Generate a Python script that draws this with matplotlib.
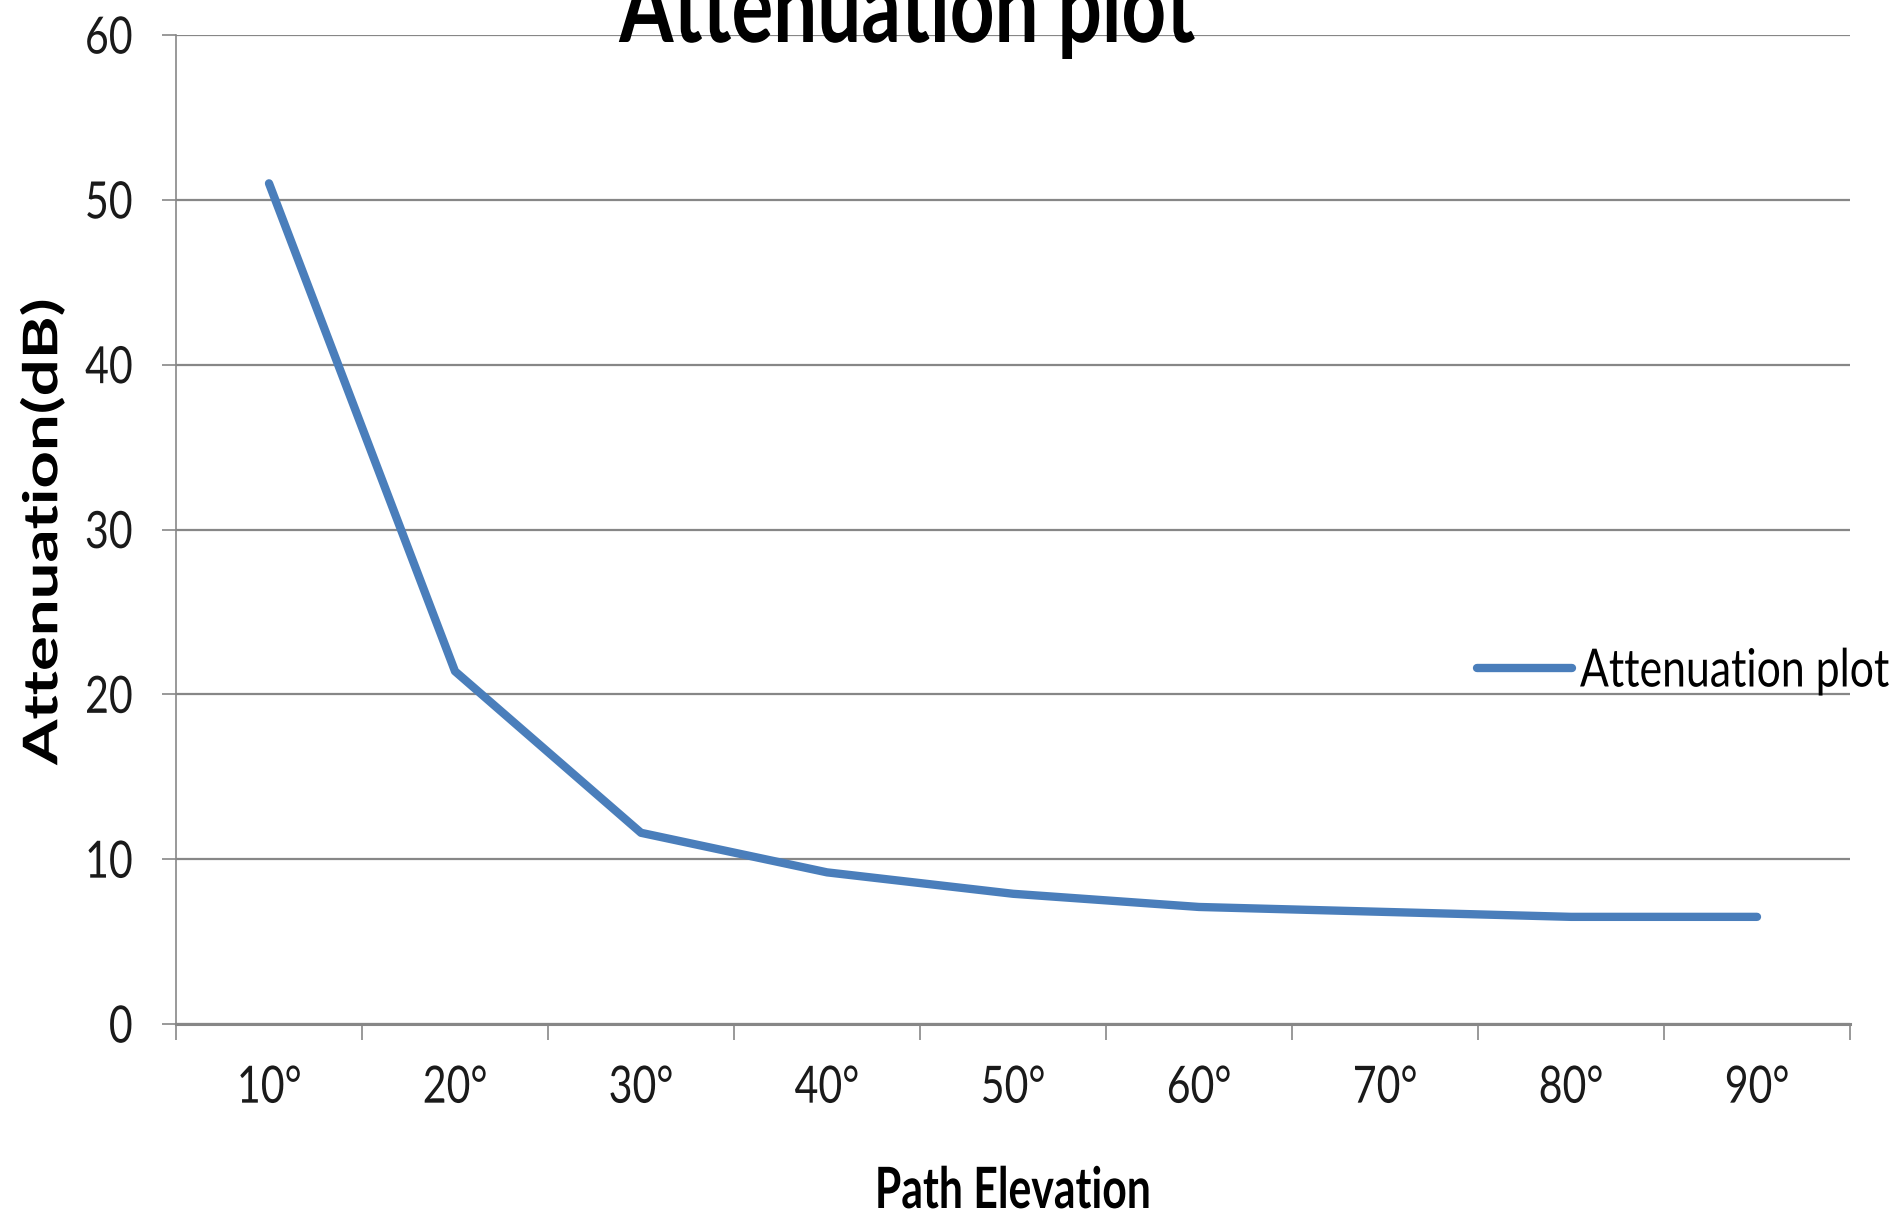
import numpy as np
import matplotlib
matplotlib.use("Agg")
import matplotlib.pyplot as plt
from matplotlib.patheffects import AbstractPathEffect
from matplotlib.transforms import Affine2D
from matplotlib.path import Path

# Data: attenuation versus path elevation angle
elevations = ["10°", "20°", "30°", "40°", "50°", "60°", "70°", "80°", "90°"]
attenuation_db = [51.0, 21.4, 11.6, 9.2, 7.9, 7.1, 6.8, 6.5, 6.5]
y_ticks = [0, 10, 20, 30, 40, 50, 60]

LINE_COLOR = "#4A7EBB"
GRID_COLOR = "#878787"
FONT = "Lato"

W, H = 1902, 1214


class Squeeze(AbstractPathEffect):
    """Narrow the glyphs horizontally (in display space) about an anchor."""

    def __init__(self, factor, anchor="center"):
        super().__init__()
        self._factor = factor
        self._anchor = anchor

    def draw_path(self, renderer, gc, tpath, affine, rgbFace=None):
        verts = tpath.vertices
        if tpath.codes is not None:
            verts = verts[tpath.codes != Path.CLOSEPOLY]
        if len(verts) == 0:
            renderer.draw_path(gc, tpath, affine, rgbFace)
            return
        xs = affine.transform(verts)[:, 0]
        if self._anchor == "left":
            x0 = xs.min()
        elif self._anchor == "right":
            x0 = xs.max()
        else:
            x0 = 0.5 * (xs.min() + xs.max())
        squeeze = Affine2D().translate(-x0, 0).scale(self._factor, 1).translate(x0, 0)
        renderer.draw_path(gc, tpath, affine + squeeze, rgbFace)


fig = plt.figure(figsize=(W / 100, H / 100), dpi=100)
fig.patch.set_facecolor("white")

left, right, top, bottom = 176, 1850, 35, 1024
ax = fig.add_axes([left / W, 1 - bottom / H, (right - left) / W, (bottom - top) / H])

x = np.arange(len(elevations)) + 0.5
ax.plot(x, attenuation_db, color=LINE_COLOR, lw=6, solid_capstyle="round",
        solid_joinstyle="round", label="Attenuation plot", zorder=3)

ax.set_xlim(0, len(elevations))
ax.set_ylim(0, 60)

# y axis: gridlines at each tick, outward ticks
ax.set_yticks(y_ticks)
ax.set_yticklabels([str(v) for v in y_ticks])
ax.yaxis.grid(True, color=GRID_COLOR, lw=1.6)
ax.set_axisbelow(True)
ax.tick_params(axis="y", direction="out", length=10, width=1.2, color=GRID_COLOR,
               pad=21, labelsize=37, labelcolor="#1a1a1a")

# x axis: ticks at category boundaries, labels at category centres
ax.set_xticks(np.arange(len(elevations) + 1))
ax.set_xticklabels([""] * (len(elevations) + 1))
ax.set_xticks(x, minor=True)
ax.set_xticklabels(elevations, minor=True)
ax.tick_params(axis="x", which="major", direction="out", length=11.5, width=1.2,
               color=GRID_COLOR)
ax.tick_params(axis="x", which="minor", length=0, pad=30, labelsize=37,
               labelcolor="#1a1a1a")

for s in ("top", "right"):
    ax.spines[s].set_visible(False)
ax.spines["left"].set_color(GRID_COLOR)
ax.spines["left"].set_linewidth(1.2)
ax.spines["bottom"].set_color(GRID_COLOR)
ax.spines["bottom"].set_linewidth(2.2)

for lab in ax.get_yticklabels():
    lab.set_fontfamily(FONT)
    lab.set_path_effects([Squeeze(0.8, "right")])
for lab in ax.get_xticklabels(minor=True):
    lab.set_fontfamily(FONT)
    lab.set_path_effects([Squeeze(0.8, "center")])

# Title, axis titles
fig.text(907 / W, 1 - 42 / H, "Attenuation plot", ha="center", va="baseline",
         fontsize=73, fontweight="bold", family=FONT,
         path_effects=[Squeeze(0.77, "center")])
fig.text(1013 / W, 1 - 1208 / H, "Path Elevation", ha="center", va="baseline",
         fontsize=41, fontweight="bold", family=FONT,
         path_effects=[Squeeze(0.75, "center")])
fig.text(43 / W, 1 - 532 / H, "Attenuation(dB)", ha="center", va="center",
         rotation=90, fontsize=47, fontweight="bold", family=FONT,
         path_effects=[Squeeze(0.73, "center")])

leg = ax.legend(loc="center left", bbox_to_anchor=(1477 / W, 1 - 672 / H),
                bbox_transform=fig.transFigure, frameon=False, borderpad=0,
                borderaxespad=0, handlelength=1.8, handletextpad=0.15,
                prop={"family": FONT, "size": 38})
for t in leg.get_texts():
    t.set_path_effects([Squeeze(0.81, "left")])

fig.savefig("out.png", dpi=100, facecolor="white")
